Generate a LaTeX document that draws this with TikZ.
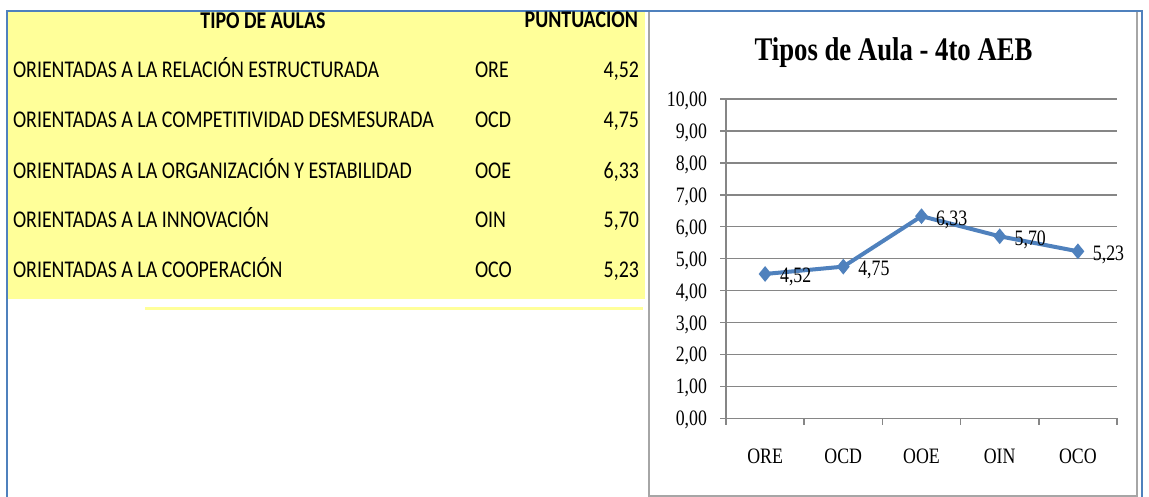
\documentclass[tikz,border=0pt]{standalone}
\usepackage{fontspec}
\setmainfont{Liberation Serif}
\newfontfamily\calib{Carlito}
\usetikzlibrary{shapes.geometric}
\definecolor{frameblue}{RGB}{79,129,189}
\definecolor{lineblue}{RGB}{79,129,189}
\definecolor{tabyellow}{RGB}{255,255,153}
\definecolor{gridgray}{RGB}{134,134,134}
\definecolor{boxgray}{RGB}{166,166,166}
\newcommand{\tabtxt}[1]{\scalebox{0.83}[1]{\calib\fontsize{24}{26}\selectfont #1}}
\newcommand{\tabbf}[1]{\scalebox{0.83}[1]{\calib\bfseries\fontsize{24}{26}\selectfont #1}}
\newcommand{\chtxt}[1]{\scalebox{0.81}[1]{\fontsize{22}{24}\selectfont #1}}
\newcommand{\chtitle}[1]{\scalebox{0.81}[1]{\bfseries\fontsize{33}{36}\selectfont #1}}
\begin{document}
\begin{tikzpicture}[x=1pt,y=-1pt,
  txt/.style={inner sep=0pt, outer sep=0pt},
  grid/.style={draw=gridgray, line width=1.5pt},
  series/.style={draw=lineblue, line width=4pt, line join=round},
  marker/.style={shape=diamond, fill=lineblue, draw=none, inner sep=0pt,
     minimum width=13pt, minimum height=16pt}]
\useasboundingbox (0,0) rectangle (1149,497);
\fill[white] (0,0) rectangle (1149,497);
% yellow table
\fill[tabyellow] (8,12) rectangle (645,299);
\fill[tabyellow] (145,307) rectangle (643,309.5);
% chart box
\draw[boxgray, line width=1.8pt] (649,11) rectangle (1137,496);
% outer frame
\draw[frameblue, line width=2.2pt] (7,497) -- (7,11) -- (1142,11) -- (1142,497);
% table header
\node[txt, anchor=base] (h1) at (263,29) {\tabbf{TIPO DE AULAS}};
\node[txt, anchor=base east] (h2) at (638,28) {\tabbf{PUNTUACION}};
% rows
\node[txt, anchor=base west] (r1) at (13,78) {\tabtxt{ORIENTADAS A LA RELACIÓN ESTRUCTURADA}};
\node[txt, anchor=base west] (r2) at (13,128) {\tabtxt{ORIENTADAS A LA COMPETITIVIDAD DESMESURADA}};
\node[txt, anchor=base west] (r3) at (13,179) {\tabtxt{ORIENTADAS A LA ORGANIZACIÓN Y ESTABILIDAD}};
\node[txt, anchor=base west] (r4) at (13,228) {\tabtxt{ORIENTADAS A LA INNOVACIÓN}};
\node[txt, anchor=base west] (r5) at (13,277) {\tabtxt{ORIENTADAS A LA COOPERACIÓN}};
\node[txt, anchor=base west] (a1) at (475,78) {\tabtxt{ORE}};
\node[txt, anchor=base west] (a2) at (475,128) {\tabtxt{OCD}};
\node[txt, anchor=base west] (a3) at (475,179) {\tabtxt{OOE}};
\node[txt, anchor=base west] (a4) at (475,228) {\tabtxt{OIN}};
\node[txt, anchor=base west] (a5) at (475,277) {\tabtxt{OCO}};
\node[txt, anchor=base east] (v1) at (639,78) {\tabtxt{4,52}};
\node[txt, anchor=base east] (v2) at (639,128) {\tabtxt{4,75}};
\node[txt, anchor=base east] (v3) at (639,179) {\tabtxt{6,33}};
\node[txt, anchor=base east] (v4) at (639,228) {\tabtxt{5,70}};
\node[txt, anchor=base east] (v5) at (639,277) {\tabtxt{5,23}};
% chart title
\node[txt, anchor=base] (title) at (893.5,61) {\chtitle{Tipos de Aula - 4to AEB}};
% gridlines and y labels
\foreach \v/\lab in {0/{0,00},1/{1,00},2/{2,00},3/{3,00},4/{4,00},5/{5,00},6/{6,00},7/{7,00},8/{8,00},9/{9,00},10/{10,00}}{
  \pgfmathsetmacro{\yy}{418.3-31.93*\v}
  \draw[grid] (720,\yy) -- (1117,\yy);
  \node[txt, anchor=base east] (yl\v) at (707,\yy+7.5) {\chtxt{\lab}};
}
% axes
\draw[grid] (726,99.3) -- (726,425);
\foreach \i in {1,...,5}{
  \draw[grid] (726+78.2*\i,418.3) -- (726+78.2*\i,425);
}
% category labels
\foreach \i/\c in {0/ORE,1/OCD,2/OOE,3/OIN,4/OCO}{
  \node[txt, anchor=base] (cat\i) at (765.1+78.2*\i,463) {\chtxt{\c}};
}
% data points
\coordinate (p1) at (765.1,{418.3-31.93*4.52});
\coordinate (p2) at (843.3,{418.3-31.93*4.75});
\coordinate (p3) at (921.5,{418.3-31.93*6.33});
\coordinate (p4) at (999.7,{418.3-31.93*5.70});
\coordinate (p5) at (1077.9,{418.3-31.93*5.23});
\draw[series] (p1) -- (p2) -- (p3) -- (p4) -- (p5);
\foreach \k in {1,...,5}{ \node[marker] (m\k) at (p\k) {}; }
% data labels
\node[txt, anchor=base west] (d1) at ([xshift=15pt,yshift=-9pt]p1) {\chtxt{4,52}};
\node[txt, anchor=base west] (d2) at ([xshift=15pt,yshift=-9pt]p2) {\chtxt{4,75}};
\node[txt, anchor=base west] (d3) at ([xshift=14.5pt,yshift=-9pt]p3) {\chtxt{6,33}};
\node[txt, anchor=base west] (d4) at ([xshift=15pt,yshift=-9pt]p4) {\chtxt{5,70}};
\node[txt, anchor=base west] (d5) at ([xshift=15pt,yshift=-9pt]p5) {\chtxt{5,23}};
\end{tikzpicture}
\end{document}
